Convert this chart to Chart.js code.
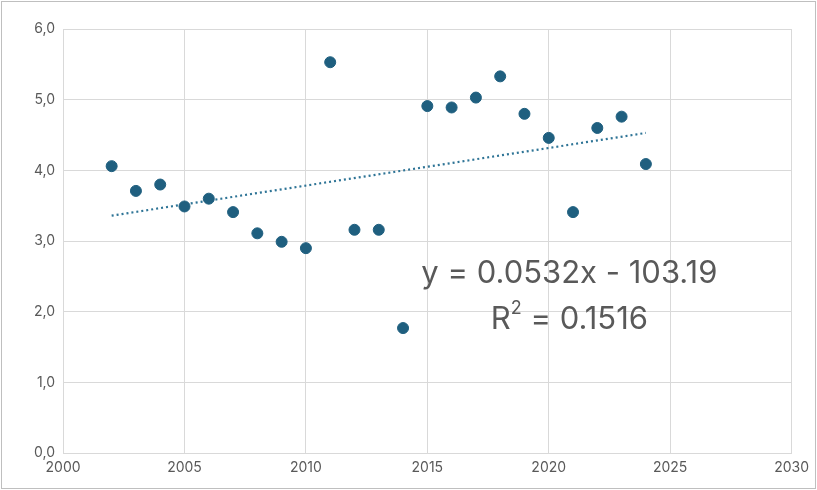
<!DOCTYPE html>
<html>
<head>
<meta charset="utf-8">
<script src="https://cdn.jsdelivr.net/npm/chart.js@4/dist/chart.umd.min.js"></script>
<style>
  html, body { margin: 0; padding: 0; background: #fff; }
  #wrap { position: absolute; left: 1px; top: 1px; width: 813px; height: 486px; border: 1px solid #bfbfbf; }
</style>
</head>
<body>
<div id="wrap"><canvas id="c"></canvas></div>
<script>
const years = [2002, 2003, 2004, 2005, 2006, 2007, 2008, 2009, 2010, 2011, 2012, 2013,
               2014, 2015, 2016, 2017, 2018, 2019, 2020, 2021, 2022, 2023, 2024];
const values = [4.06, 3.71, 3.80, 3.49, 3.60, 3.41, 3.11, 2.99, 2.90, 5.53, 3.16, 3.16,
                1.77, 4.91, 4.89, 5.03, 5.33, 4.80, 4.46, 3.41, 4.60, 4.76, 4.09];
const trendX = [2002, 2024];
const trendY = [3.36, 4.53];
const equation = "y = 0.0532x - 103.19";
const rSquared = "0.1516";

const grey = "#595959";
const bigFont = "31px Inter, 'Noto Sans', sans-serif";
const supFont = "18px Inter, 'Noto Sans', sans-serif";

const labelPlugin = {
    id: "eqLabel",
    afterDatasetsDraw(chart) {
        const ctx = chart.ctx;
        const xs = chart.scales.x, ys = chart.scales.y;
        const cx = xs.getPixelForValue(2020.85);
        ctx.save();
        ctx.fillStyle = grey;
        ctx.font = bigFont;
        ctx.textAlign = "center";
        ctx.textBaseline = "middle";
        ctx.fillText(equation, cx, ys.getPixelForValue(2.54));
        const r = "R", rest = " = " + rSquared;
        const wr = ctx.measureText(r).width, wrest = ctx.measureText(rest).width;
        ctx.font = supFont;
        const w2 = ctx.measureText("2").width;
        const x0 = cx - (wr + w2 + wrest) / 2;
        const yR = ys.getPixelForValue(1.89);
        ctx.textAlign = "left";
        ctx.font = bigFont;
        ctx.fillText(r, x0, yR);
        ctx.font = supFont;
        ctx.fillText("2", x0 + wr, yR - 11);
        ctx.font = bigFont;
        ctx.fillText(rest, x0 + wr + w2, yR);
        ctx.restore();
    }
};

new Chart(document.getElementById("c").getContext("2d"), {
    type: "scatter",
    data: {
        datasets: [{
            data: years.map((y, i) => ({ x: y, y: values[i] })),
            backgroundColor: "#1f5f7f",
            borderColor: "#1f5f7f",
            pointRadius: 5.5,
            pointHoverRadius: 5.5
        }, {
            type: "line",
            data: trendX.map((x, i) => ({ x: x, y: trendY[i] })),
            borderColor: "#2e7496",
            borderWidth: 2.2,
            borderDash: [2, 3],
            pointRadius: 0,
            fill: false
        }]
    },
    options: {
        responsive: true,
        maintainAspectRatio: false,
        animation: false,
        layout: { padding: { top: 27, right: 14, bottom: 6, left: 24 } },
        plugins: { legend: { display: false }, tooltip: { enabled: false } },
        scales: {
            x: {
                type: "linear", min: 2000, max: 2030,
                ticks: { stepSize: 5, color: grey, padding: 6,
                         font: { size: 14, family: "Inter, 'Noto Sans', sans-serif" },
                         callback: v => String(v) },
                grid: { color: "#d9d9d9", drawTicks: false },
                border: { color: "#d9d9d9" }
            },
            y: {
                min: 0, max: 6,
                ticks: { stepSize: 1, color: grey, padding: 8,
                         font: { size: 14, family: "Inter, 'Noto Sans', sans-serif" },
                         callback: v => v.toFixed(1).replace(".", ",") },
                grid: { color: "#d9d9d9", drawTicks: false },
                border: { display: false }
            }
        }
    },
    plugins: [labelPlugin]
});
</script>
</body>
</html>
